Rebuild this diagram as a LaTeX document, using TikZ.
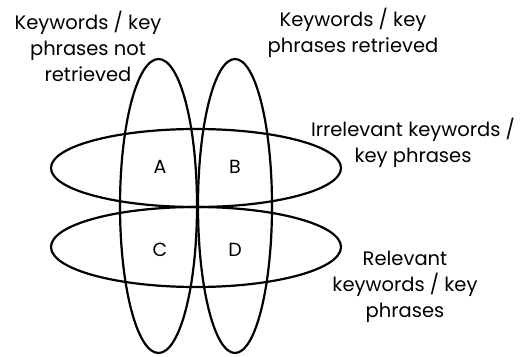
\documentclass[tikz,border=0pt]{standalone}
\usepackage{fontspec}
\setmainfont{Poppins}
\begin{document}
\begin{tikzpicture}[x=1pt,y=-1pt,
  ring/.style={draw=black,line width=2.2pt},
  lbl/.style={align=center,font=\fontsize{19.5}{26}\selectfont,inner sep=0pt},
  letter/.style={font=\fontsize{19}{22}\selectfont,inner sep=0pt}]
\useasboundingbox (0,0) rectangle (532,356);
\draw[ring] (158.5,206) ellipse [x radius=38.5, y radius=147];
\draw[ring] (235,206) ellipse [x radius=37, y radius=147];
\draw[ring] (196,168) ellipse [x radius=145, y radius=39];
\draw[ring] (196,247) ellipse [x radius=145, y radius=40];
\node[letter] (a) at (160,167) {A};
\node[letter] (b) at (235,167) {B};
\node[letter] (c) at (160,250) {C};
\node[letter] (d) at (235,250) {D};
\node[lbl] (nr) at (88,46) {Keywords / key\\phrases not\\retrieved};
\node[lbl] (r) at (353,33) {Keywords / key\\phrases retrieved};
\node[lbl] (ir) at (413,143) {Irrelevant keywords /\\key phrases};
\node[lbl] (rel) at (405,287) {Relevant\\keywords / key\\phrases};
\end{tikzpicture}
\end{document}
